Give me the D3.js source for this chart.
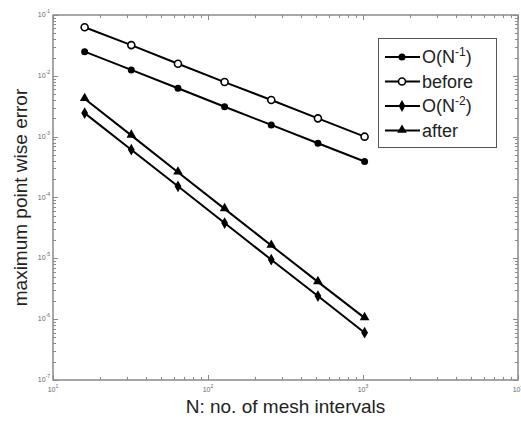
<!DOCTYPE html>
<html>
<head>
<meta charset="utf-8">
<script src="https://cdn.jsdelivr.net/npm/d3@7"></script>
<style>
  body { margin: 0; background: #fff; }
  svg { display: block; font-family: "Liberation Sans", Arial, sans-serif; }
</style>
</head>
<body>
<svg id="chart" width="521" height="421"></svg>
<script>
(function(d3) {
    'use strict';

    // mesh sizes and errors
    var meshN = [16, 32, 64, 128, 256, 512, 1024];
    var orderOne = [0.025, 0.0125, 0.00625, 0.0031, 0.00156, 0.00078, 0.00039];
    var before = [0.063, 0.032, 0.0158, 0.0079, 0.004, 0.002, 0.001];
    var orderTwo = [0.00244, 0.00061, 0.000153, 0.000038, 0.0000095, 0.0000024, 0.0000006];
    var after = [0.0042, 0.00105, 0.00026, 0.000065, 0.0000163, 0.0000041, 0.00000105];

    var xDecades = [1, 2, 3, 4];
    var yDecades = [-1, -2, -3, -4, -5, -6, -7];

    var series = [
        {name: 'O(N', sup: '-1', tail: ')', values: orderOne, marker: 'dot'},
        {name: 'before', values: before, marker: 'ring'},
        {name: 'O(N', sup: '-2', tail: ')', values: orderTwo, marker: 'diamond'},
        {name: 'after', values: after, marker: 'triangle'}
    ];

    var left = 53, right = 518, top = 15, bottom = 380;
    var axisColor = '#8a8a8a';

    var svg = d3.select('#chart');

    var x = d3.scaleLog().domain([10, 1e4]).range([left, right]);
    var y = d3.scaleLog().domain([1e-7, 1e-1]).range([bottom, top]);

    function isMajor(v) {
        var l = Math.log10(v);
        return Math.abs(l - Math.round(l)) < 1e-9;
    }

    // frame
    svg.append('rect')
        .attr('x', left).attr('y', top)
        .attr('width', right - left).attr('height', bottom - top)
        .attr('fill', 'none')
        .attr('stroke', axisColor)
        .attr('stroke-width', 1.5);

    // ticks on all four sides
    var ticks = svg.append('g').attr('stroke', axisColor).attr('stroke-width', 1);
    x.ticks().forEach(function(t) {
        var len = isMajor(t) ? 5 : 3;
        var px = Math.round(x(t)) + 0.5;
        ticks.append('line').attr('x1', px).attr('x2', px).attr('y1', bottom).attr('y2', bottom - len);
        ticks.append('line').attr('x1', px).attr('x2', px).attr('y1', top).attr('y2', top + len);
    });
    y.ticks().forEach(function(t) {
        var len = isMajor(t) ? 5 : 3;
        var py = Math.round(y(t)) + 0.5;
        ticks.append('line').attr('x1', left).attr('x2', left + len).attr('y1', py).attr('y2', py);
        ticks.append('line').attr('x1', right).attr('x2', right - len).attr('y1', py).attr('y2', py);
    });

    // tick labels (10 with a superscript exponent)
    function powerLabel(g, exp) {
        g.append('tspan').text('10');
        g.append('tspan').attr('dy', -4).attr('font-size', 5).text(exp);
    }

    yDecades.forEach(function(e) {
        var t = svg.append('text')
            .attr('x', left - 3)
            .attr('y', y(Math.pow(10, e)) + 2)
            .attr('text-anchor', 'end')
            .attr('font-size', 7)
            .attr('fill', '#666');
        powerLabel(t, e);
    });

    xDecades.forEach(function(e) {
        var t = svg.append('text')
            .attr('x', x(Math.pow(10, e)))
            .attr('y', bottom + 12)
            .attr('text-anchor', 'middle')
            .attr('font-size', 7)
            .attr('fill', '#666');
        powerLabel(t, e);
    });

    // axis titles
    svg.append('text')
        .attr('x', (left + right) / 2)
        .attr('y', 413)
        .attr('text-anchor', 'middle')
        .attr('font-size', 19)
        .attr('fill', '#222')
        .text('N: no. of mesh intervals');

    svg.append('text')
        .attr('transform', 'translate(27,' + ((top + bottom) / 2) + ') rotate(-90)')
        .attr('text-anchor', 'middle')
        .attr('font-size', 19)
        .attr('fill', '#222')
        .text('maximum point wise error');

    // markers
    function drawMarker(g, kind, cx, cy) {
        if (kind === 'dot') {
            g.append('circle').attr('cx', cx).attr('cy', cy).attr('r', 3.5).attr('fill', '#000');
        } else if (kind === 'ring') {
            g.append('circle').attr('cx', cx).attr('cy', cy).attr('r', 3.5)
                .attr('fill', '#fff').attr('stroke', '#000').attr('stroke-width', 1.6);
        } else if (kind === 'diamond') {
            g.append('path')
                .attr('d', d3.symbol(d3.symbolDiamond, 40)())
                .attr('transform', 'translate(' + cx + ',' + cy + ')')
                .attr('fill', '#000');
        } else {
            g.append('path')
                .attr('d', d3.symbol(d3.symbolTriangle, 40)())
                .attr('transform', 'translate(' + cx + ',' + (cy - 0.5) + ')')
                .attr('fill', '#000');
        }
    }

    var line = d3.line()
        .x(function(d, i) { return x(meshN[i]); })
        .y(function(d) { return y(d); });

    var plot = svg.append('g');
    series.forEach(function(s) {
        plot.append('path')
            .attr('d', line(s.values))
            .attr('fill', 'none')
            .attr('stroke', '#000')
            .attr('stroke-width', 2);
        s.values.forEach(function(v, i) {
            drawMarker(plot, s.marker, x(meshN[i]), y(v));
        });
    });

    // legend
    var legend = svg.append('g');
    legend.append('rect')
        .attr('x', 378.5).attr('y', 38.5)
        .attr('width', 118).attr('height', 109)
        .attr('fill', '#fff')
        .attr('stroke', '#555')
        .attr('stroke-width', 1);

    series.forEach(function(s, i) {
        var ly = 57 + i * 24.5;
        legend.append('line')
            .attr('x1', 385).attr('x2', 420).attr('y1', ly).attr('y2', ly)
            .attr('stroke', '#000').attr('stroke-width', 2);
        drawMarker(legend, s.marker, 402, ly);
        var t = legend.append('text')
            .attr('x', 422).attr('y', ly + 6)
            .attr('font-size', 18)
            .attr('fill', '#222');
        t.append('tspan').text(s.name);
        if (s.sup) {
            t.append('tspan').attr('dy', -7).attr('font-size', 12).text(s.sup);
            t.append('tspan').attr('dy', 7).text(s.tail);
        }
    });
}(d3));
</script>
</body>
</html>
